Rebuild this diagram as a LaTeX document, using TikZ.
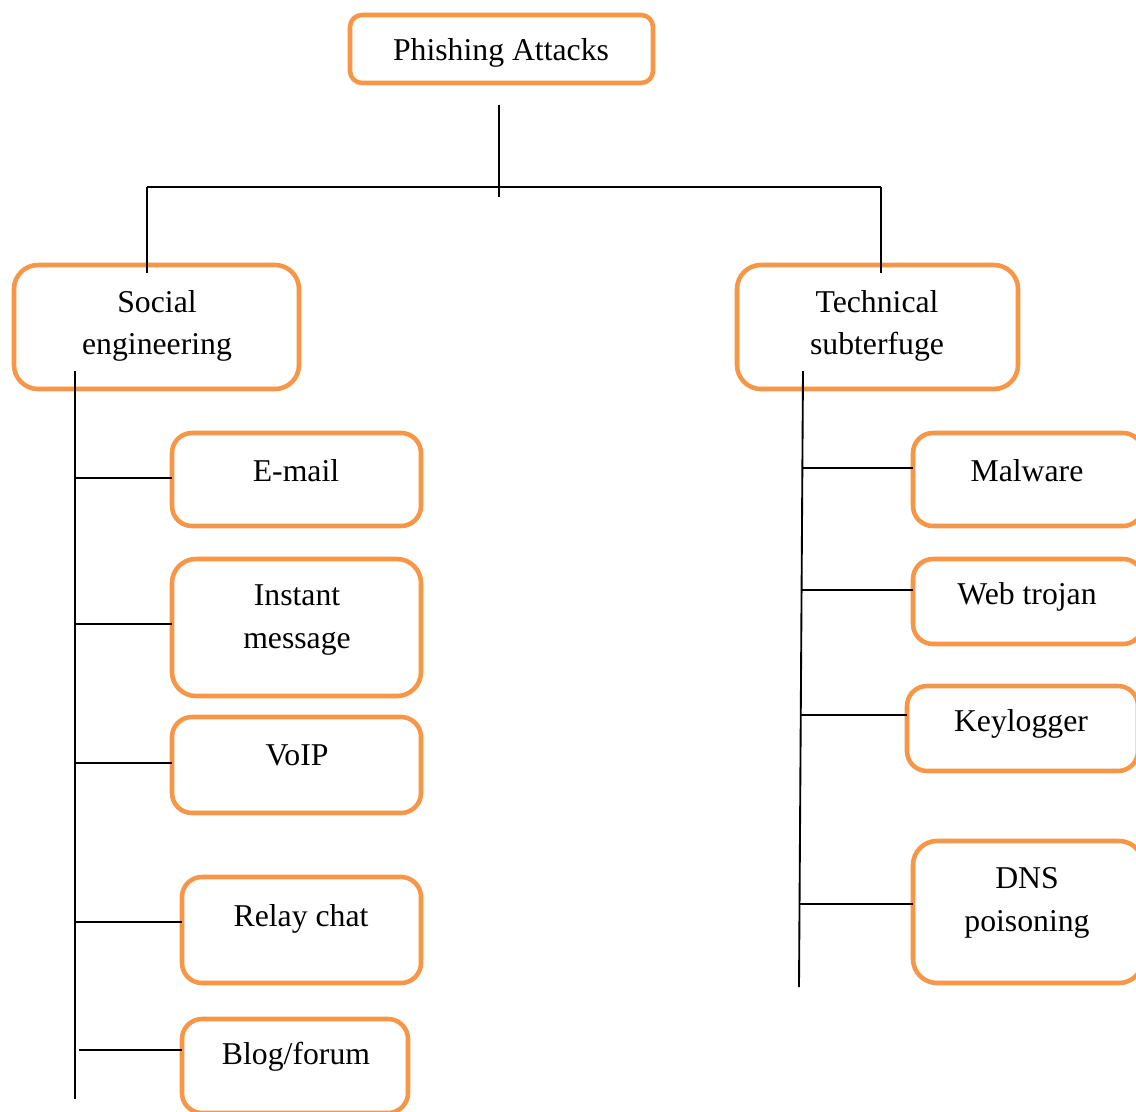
\documentclass[tikz,border=0pt]{standalone}
\usepackage{fontspec}
\setmainfont{Liberation Serif}
\definecolor{boxorange}{RGB}{247,150,70}
\tikzset{
  box/.style={draw=boxorange, line width=3.4pt, fill=white, inner sep=0pt, outer sep=0pt},
  lbl/.style={inner sep=0pt, align=center, font=\fontsize{23.8}{32}\selectfont},
  link/.style={draw=black, line width=1.4pt}
}
\begin{document}
\begin{tikzpicture}[x=0.75pt, y=-0.75pt]
\useasboundingbox (0,0) rectangle (1136,1111);
\clip (0,0) rectangle (1136,1111);

% boxes
\node[box, rounded corners=9pt,  minimum width=303*0.75pt, minimum height=68*0.75pt]  (root) at (501.5,49) {};
\node[box, rounded corners=18pt, minimum width=285*0.75pt, minimum height=124*0.75pt] (soc)  at (156.5,327) {};
\node[box, rounded corners=18pt, minimum width=281*0.75pt, minimum height=124*0.75pt] (tech) at (877.5,327) {};

\node[box, rounded corners=15pt, minimum width=249*0.75pt, minimum height=93*0.75pt]  (email) at (296.5,479.5) {};
\node[box, rounded corners=18pt, minimum width=249*0.75pt, minimum height=137*0.75pt] (im)    at (296.5,627.5) {};
\node[box, rounded corners=15pt, minimum width=249*0.75pt, minimum height=96*0.75pt]  (voip)  at (296.5,765) {};
\node[box, rounded corners=15pt, minimum width=239*0.75pt, minimum height=106*0.75pt] (relay) at (301.5,930) {};
\node[box, rounded corners=15pt, minimum width=226*0.75pt, minimum height=94*0.75pt]  (blog)  at (295,1066) {};

\node[box, rounded corners=15pt, minimum width=230*0.75pt, minimum height=93*0.75pt]  (mal) at (1028,479.5) {};
\node[box, rounded corners=15pt, minimum width=230*0.75pt, minimum height=85*0.75pt]  (web) at (1028,601.5) {};
\node[box, rounded corners=15pt, minimum width=231*0.75pt, minimum height=85*0.75pt]  (key) at (1022.5,728.5) {};
\node[box, rounded corners=18pt, minimum width=230*0.75pt, minimum height=142*0.75pt] (dns) at (1028,912) {};

% labels
\node[lbl] (troot)  at (501,53)  {Phishing Attacks};
\node[lbl] (tsoc)   at (157,326) {Social\\engineering};
\node[lbl] (ttech)  at (877,326) {Technical\\subterfuge};
\node[lbl] (temail) at (296,471) {E-mail};
\node[lbl] (tim)    at (297,620) {Instant\\message};
\node[lbl] (tvoip)  at (297,755) {VoIP};
\node[lbl] (trelay) at (301,919) {Relay chat};
\node[lbl] (tblog)  at (296,1057) {Blog/forum};
\node[lbl] (tmal)   at (1027,471) {Malware};
\node[lbl] (tweb)   at (1027,597) {Web trojan};
\node[lbl] (tkey)   at (1021,724) {Keylogger};
\node[lbl] (tdns)   at (1027,903) {DNS\\poisoning};

% upper tree
\coordinate (stemtop) at (499,105);
\coordinate (stembot) at (499,197);
\coordinate (barL) at (147,187);
\coordinate (barR) at (881,187);
\draw[link] (stemtop) -- (stembot);
\draw[link] (barL) -- (barR);
\draw[link] (barL) -- (147,273);
\draw[link] (barR) -- (881,273);

% left trunk and branches
\coordinate (lt) at (75,371);
\coordinate (lb) at (75,1099);
\draw[link] (lt) -- (lb);
\coordinate (l1) at (75,478);
\coordinate (l2) at (75,624);
\coordinate (l3) at (75,763);
\coordinate (l4) at (75,922);
\coordinate (l5) at (79,1050);
\draw[link] (l1) -- (l1 -| email.west);
\draw[link] (l2) -- (l2 -| im.west);
\draw[link] (l3) -- (l3 -| voip.west);
\draw[link] (l4) -- (l4 -| relay.west);
\draw[link] (l5) -- (l5 -| blog.west);

% right trunk and branches
\coordinate (rt) at (803,371);
\coordinate (rb) at (799,987);
\draw[link] (rt) -- (rb);
\coordinate (r1) at (802.4,468);
\coordinate (r2) at (801.6,590);
\coordinate (r3) at (800.8,715);
\coordinate (r4) at (799.6,904);
\draw[link] (r1) -- (r1 -| mal.west);
\draw[link] (r2) -- (r2 -| web.west);
\draw[link] (r3) -- (r3 -| key.west);
\draw[link] (r4) -- (r4 -| dns.west);
\end{tikzpicture}
\end{document}
